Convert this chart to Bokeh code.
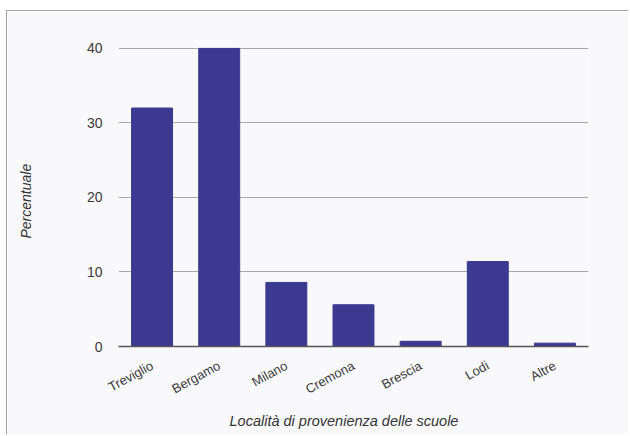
from bokeh.plotting import figure
from bokeh.models import Title, FixedTicker
from bokeh.embed import file_html
from bokeh.resources import INLINE

categories = ["Treviglio", "Bergamo", "Milano", "Cremona", "Brescia", "Lodi", "Altre"]
values = [32, 40, 8.6, 5.6, 0.7, 11.4, 0.45]
y_ticks = [0, 10, 20, 30, 40]

BG = "#f9f9fb"
BAR = "#3b3990"
FONT = "Liberation Sans"

p = figure(x_range=categories, y_range=(0, 42), width=622, height=424,
           output_backend="svg", toolbar_location=None,
           min_border_left=111, min_border_right=41,
           min_border_top=22, min_border_bottom=89)
p.margin = (10, 0, 0, 6)
p.styles = {"border-top": "1px solid #a0a0a0", "border-left": "1px solid #a0a0a0"}
p.background_fill_color = BG
p.border_fill_color = BG
p.outline_line_color = None

p.vbar(x=categories, top=values, width=0.61, color=BAR)

p.x_range.range_padding = 0

p.xgrid.grid_line_color = None
p.ygrid.grid_line_color = "#a8a8a8"
p.ygrid.grid_line_width = 1
p.yaxis.ticker = FixedTicker(ticks=y_ticks)

p.yaxis.axis_line_color = None
p.yaxis.major_tick_line_color = None
p.yaxis.minor_tick_line_color = None
p.yaxis.major_label_text_font = FONT
p.yaxis.major_label_text_font_size = "14px"
p.yaxis.major_label_text_color = "#3a3a3a"
p.yaxis.major_label_standoff = 10

p.xaxis.axis_line_color = "#555555"
p.xaxis.axis_line_width = 1.5
p.xaxis.major_tick_line_color = None
p.xaxis.minor_tick_line_color = None
p.xaxis.major_label_orientation = 0.5
p.xaxis.major_label_text_font = FONT
p.xaxis.major_label_text_font_size = "13px"
p.xaxis.major_label_text_color = "#3a3a3a"
p.xaxis.major_label_standoff = 12

xtitle = Title(text="Località di provenienza delle scuole", align="left", offset=111,
               standoff=8, text_font=FONT, text_font_style="italic",
               text_font_size="14.5px", text_color="#333333")
p.add_layout(xtitle, "below")

spacer = Title(text=" ", text_font_size="12px", text_color=BG, standoff=32)
p.add_layout(spacer, "left")

ytitle = Title(text="Percentuale", align="left", offset=108, standoff=4,
               text_font=FONT, text_font_style="italic", text_font_size="14px",
               text_color="#333333")
p.add_layout(ytitle, "left")

open("out.html", "w").write(file_html(p, INLINE))
